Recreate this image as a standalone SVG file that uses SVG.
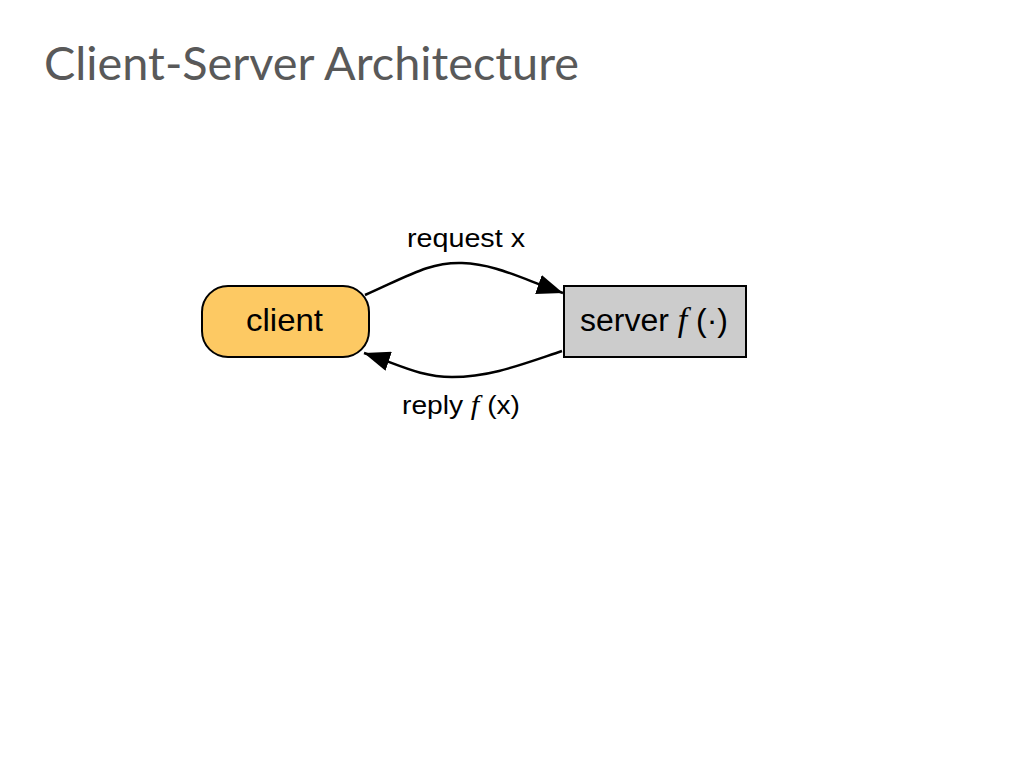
<svg xmlns="http://www.w3.org/2000/svg" width="1024" height="768" viewBox="0 0 1024 768">
<style>
.lbl{font-family:"Liberation Sans",Arial,sans-serif;fill:#000}
.it{font-family:"Liberation Serif","Times New Roman",serif;font-style:italic}
.edge{fill:none;stroke:#000;stroke-width:2.5}
.node{stroke:#000;stroke-width:2}
</style>
<defs>
<marker id="ah2" viewBox="0 0 26 20" refX="26" refY="10" markerWidth="26" markerHeight="20" orient="auto" markerUnits="userSpaceOnUse">
<path d="M0,0 L26,10 L0,20 Z" fill="#000"/>
</marker>
</defs>
<rect width="1024" height="768" fill="#fff"/>
<text x="44" y="80" font-family="Lato,'Noto Sans',sans-serif" font-size="47" fill="#595959" textLength="535" lengthAdjust="spacingAndGlyphs">Client-Server Architecture</text>
<g id="edges">
<path class="edge" d="M365,295 C410,275 430,262 462,263 C495,264 520,278 563,293" marker-end="url(#ah2)"/>
<text class="lbl" x="407" y="247" font-size="26" textLength="118" lengthAdjust="spacingAndGlyphs">request x</text>
<path class="edge" d="M562,351 C520,365 490,377 452,377 C420,377 400,365 364,353" marker-end="url(#ah2)"/>
<text class="lbl" x="402" y="414" font-size="26" textLength="118" lengthAdjust="spacingAndGlyphs">reply <tspan class="it" font-size="28">f</tspan> (x)</text>
</g>
<g id="client">
<rect class="node" x="202" y="286" width="167" height="71" rx="26" ry="26" fill="#fdc963"/>
<text class="lbl" x="246" y="331" font-size="32" textLength="77" lengthAdjust="spacingAndGlyphs">client</text>
</g>
<g id="server">
<rect class="node" x="564" y="286" width="182" height="71" fill="#cccccc"/>
<text class="lbl" x="580" y="331" font-size="31" textLength="148" lengthAdjust="spacingAndGlyphs">server <tspan class="it" font-size="33">f</tspan> (·)</text>
</g>
</svg>
